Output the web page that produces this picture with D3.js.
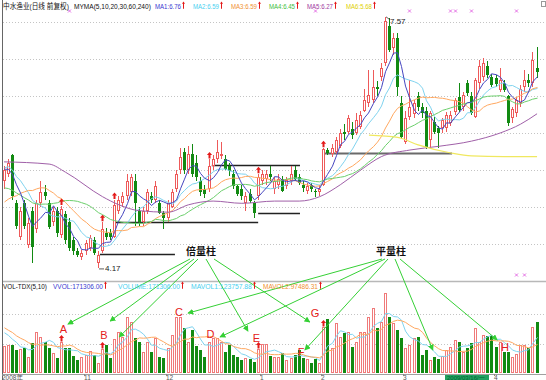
<!DOCTYPE html>
<html><head><meta charset="utf-8">
<script src="https://cdn.jsdelivr.net/npm/d3@7"></script>
<style>
html,body{margin:0;padding:0;background:#fff;}
svg{display:block;font-family:"Liberation Sans","Noto Sans CJK SC",Arial,sans-serif;}
</style></head><body>
<svg id="c" width="546" height="380"></svg>
<script>
// ---------------- DATA ----------------
const open = [5.35,5.45,5.70,5.05,4.60,5.05,4.48,4.95,4.70,5.05,
 5.20,5.05,4.80,4.95,4.62,4.90,4.80,4.55,4.40,4.33,
 4.40,4.45,4.55,4.25,4.40,4.65,4.65,4.60,4.95,5.05,
 5.15,5.20,5.35,4.95,4.80,4.95,5.15,5.10,5.05,4.92,
 4.85,5.00,5.25,5.50,5.74,5.50,5.72,5.60,5.35,5.25,
 5.25,5.55,5.65,5.70,5.65,5.55,5.45,5.28,5.25,5.05,
 5.18,5.05,5.15,5.35,5.38,5.45,5.25,5.30,5.38,5.28,
 5.35,5.50,5.40,5.30,5.22,5.30,5.22,5.20,5.30,5.77,
 5.72,5.75,5.82,6.02,6.02,6.05,6.00,6.08,6.30,6.40,
 6.45,6.62,6.76,6.95,7.45,7.15,7.28,6.40,5.88,6.22,
 6.25,6.50,6.35,6.30,5.90,6.15,6.07,6.07,6.07,6.14,
 6.28,6.48,6.35,6.68,6.50,6.22,6.68,6.76,6.90,6.76,
 6.75,6.58,6.68,6.50,6.20,6.27,6.40,6.62,6.72,6.68,
 6.88];
const high = [5.55,5.65,5.72,5.10,5.00,5.10,4.85,5.00,5.10,5.35,
 5.30,5.10,5.00,5.00,5.02,4.95,4.85,4.60,4.45,4.42,
 4.55,4.62,4.60,4.40,4.80,4.72,4.70,5.10,5.15,5.20,
 5.45,5.45,5.45,5.00,5.00,5.25,5.20,5.35,5.10,4.95,
 5.10,5.25,5.50,5.80,5.80,5.82,5.85,5.70,5.40,5.30,
 5.65,5.70,5.90,5.88,5.70,5.60,5.50,5.30,5.30,5.20,
 5.25,5.08,5.45,5.50,5.50,5.55,5.40,5.45,5.42,5.40,
 5.55,5.55,5.45,5.35,5.32,5.33,5.25,5.30,5.80,5.80,
 5.85,5.95,6.05,6.12,6.25,6.15,6.27,6.30,6.60,6.85,
 6.85,6.70,6.95,7.57,7.55,7.35,7.35,6.50,6.30,6.72,
 6.45,6.55,6.40,6.35,6.30,6.22,6.10,6.20,6.28,6.30,
 6.47,6.68,6.55,6.72,6.55,6.75,6.98,7.02,6.97,6.80,
 6.78,6.88,6.72,6.52,6.35,6.48,6.65,6.85,6.80,7.10,
 7.16];
const low = [5.25,5.40,5.10,4.70,4.55,4.70,4.45,4.24,4.65,5.00,
 5.10,4.70,4.75,4.60,4.58,4.50,4.40,4.35,4.32,4.28,
 4.35,4.40,4.35,4.17,4.38,4.55,4.55,4.58,4.90,5.00,
 5.10,5.15,4.75,4.75,4.75,4.90,5.05,5.05,4.90,4.70,
 4.80,4.98,5.20,5.45,5.45,5.45,5.40,5.35,5.15,5.12,
 5.20,5.50,5.60,5.65,5.50,5.42,5.25,5.15,5.10,4.95,
 5.05,4.85,5.10,5.30,5.30,5.35,5.18,5.25,5.20,5.25,
 5.30,5.35,5.30,5.20,5.18,5.20,5.14,5.15,5.28,5.70,
 5.68,5.72,5.80,5.90,5.98,5.92,5.97,6.05,6.28,6.35,
 6.40,6.50,6.70,6.90,7.10,7.05,6.50,5.92,5.85,6.18,
 6.20,6.30,6.20,5.78,5.80,5.98,5.80,6.00,6.02,6.10,
 6.25,6.28,6.30,6.50,6.25,6.20,6.60,6.70,6.75,6.62,
 6.62,6.55,6.55,6.10,6.14,6.22,6.35,6.55,6.62,6.62,
 6.75];
const close = [5.50,5.60,5.15,4.75,4.95,4.75,4.78,4.46,5.05,5.20,
 5.15,4.73,4.95,4.65,4.97,4.55,4.45,4.40,4.35,4.38,
 4.52,4.58,4.38,4.35,4.70,4.60,4.60,5.03,5.10,5.15,
 5.35,5.40,5.05,4.80,4.95,5.20,5.10,5.28,4.92,4.85,
 5.05,5.20,5.45,5.68,5.50,5.72,5.45,5.40,5.20,5.18,
 5.55,5.65,5.75,5.72,5.52,5.48,5.28,5.18,5.15,5.15,
 5.08,4.92,5.40,5.45,5.45,5.40,5.35,5.38,5.22,5.36,
 5.45,5.38,5.32,5.26,5.28,5.24,5.20,5.25,5.78,5.73,
 5.80,5.91,6.00,5.99,6.20,5.97,6.17,6.24,6.45,6.52,
 6.62,6.60,6.88,7.52,7.12,7.28,6.62,5.95,6.20,6.35,
 6.40,6.35,6.27,5.81,6.27,6.01,6.00,6.17,6.24,6.24,
 6.45,6.31,6.51,6.54,6.27,6.72,6.90,6.95,6.78,6.65,
 6.66,6.72,6.58,6.14,6.32,6.45,6.60,6.72,6.68,6.99,
 6.82];
const volume = [91500,95000,95000,78000,81000,85000,54000,102000,139000,122000,
 105000,85000,68000,51000,105000,85000,85000,58000,44000,54000,
 61000,75000,61000,34000,81000,95000,51000,115000,139000,122000,
 190000,173000,119000,105000,71000,105000,71000,119000,54000,51000,
 85000,129000,190000,190000,153000,105000,146000,92000,78000,54000,
 105000,119000,119000,105000,71000,95000,61000,54000,44000,51000,
 47000,37000,81000,98000,98000,58000,54000,54000,68000,44000,
 51000,61000,78000,51000,47000,34000,47000,34000,156000,183000,
 85000,170000,122000,136000,139000,88000,105000,139000,139000,190000,
 220000,153000,173000,271000,190000,170000,146000,119000,85000,95000,
 119000,122000,61000,78000,44000,54000,47000,58000,78000,88000,
 112000,105000,71000,85000,102000,153000,105000,129000,125000,125000,
 88000,105000,71000,71000,54000,64000,95000,95000,85000,156000,
 171306];
// closes / volumes before the visible window (seed for the moving averages)
const priorClose = [5.90,5.85,5.80,5.90,5.75,5.70,5.60,5.50,5.30,5.10,
 4.80,4.60,4.40,4.30,4.35,4.40,4.50,4.60,4.90,5.20,
 5.45,5.60,5.65,5.50,5.55,5.60,5.50,5.45,5.50];
const priorVolume = [180000,170000,190000,160000,150000,140000,160000,130000,160000];
// long averages: [bar, value]
const ma60Read = [[0,5.61],[11,5.58],[15,5.47],[24,5.14],[28,5.03],[33,4.95],[40,4.93],[45,5.03],[51,5.08],[58,5.05],[66,5.08],[72,5.08],[77,5.14],[82,5.30],[87,5.50],[92,5.68],[99,5.77],[106,5.82],[114,5.89],[121,6.00],[126,6.12],[130,6.26]];
const ma240Read = [[89,5.97],[96,5.94],[101,5.84],[109,5.73],[114,5.69],[122,5.68],[130,5.68]];
const monthLabels = ["2008年","11","12","1","2","3","4"];
const monthStart = [0,20,40,63,78,98,120];
const priceGrid = [7.5,7.0,6.5,6.0,5.5,5.0,4.5];
const volGrid = [100000,200000];
const maTitle = ["MA1:6.76","MA2:6.59","MA3:6.59","MA4:6.45","MA5:6.27","MA6:5.68"];
const volTitle = ["VVOL:171306.00","VOLUME:171306.00","MAVOL1:123757.88","MAVOL2:97486.31"];
const upBars = [14,24,27,50,62,78];       // red ↑ signals in price panel
const volUpBars = [14,24,62,78];          // red ↑ in volume panel
const topMarks = [16,76,99,109,110,114,125];
const bottomMarks = [125,127];
// annotation segments [fromBar, toBar, price]
const blackSegs = [[23.5,41.8,4.365],[26.7,62.1,4.80],[50.8,72.3,5.57],[62.1,72.3,4.92]];
const graySeg = [77.7,109.4,5.73];
// letters [label, bar, volume]
const letters = [["A",14.6,148000],["B",24.5,128000],["C",42.8,208000],["D",50.5,132000],["E",61.7,120000],["F",72.6,72000],["G",76.0,205000],["H",122.3,88000]];
// arrows [group, bar, volume, source x]
const arrows = [[0,15.7,166000,190],[0,26.0,176000,194],[0,28.2,122000,198],[0,59.6,142000,206],[0,74.7,173000,214],
 [1,45.0,203000,382],[1,52.8,122000,385],[1,73.5,78000,388],[1,104.7,78000,395],[1,120.4,112000,400]];

// ---------------- SCALES ----------------
const N = close.length;
const svg = d3.select("#c");
const x = d3.scaleBand().domain(d3.range(N)).range([1.5, 1.5 + N * 4.1]);
const cx = i => Math.round(x(i) + x.bandwidth() / 2);
const xl = d3.scaleLinear().domain([0, N - 1]).range([x(0) + x.bandwidth()/2, x(N-1) + x.bandwidth()/2]);
const yP = d3.scaleLinear().domain([4, 7.5]).range([281, 22]);
const yV = d3.scaleLinear().domain([0, 300000]).range([373, 284.5]);

const RED = "#ee5a5a", VRED = "#f07a7a", GRN = "#128a12";

// grid
svg.append("g").selectAll("line").data(priceGrid).join("line")
  .attr("x1", 3).attr("x2", 546).attr("y1", d => Math.round(yP(d)) + 0.5).attr("y2", d => Math.round(yP(d)) + 0.5)
  .attr("stroke", "#c4c4c4").attr("stroke-dasharray", "1,2");
svg.append("g").selectAll("line").data(volGrid).join("line")
  .attr("x1", 3).attr("x2", 546).attr("y1", d => Math.round(yV(d)) + 0.5).attr("y2", d => Math.round(yV(d)) + 0.5)
  .attr("stroke", "#c4c4c4").attr("stroke-dasharray", "1,2");
// panel frame
svg.append("line").attr("x1", 3).attr("x2", 546).attr("y1", 281.5).attr("y2", 281.5).attr("stroke", "#b8b8b8").attr("stroke-width", 1.5);
svg.append("line").attr("x1", 3).attr("x2", 546).attr("y1", 374.5).attr("y2", 374.5).attr("stroke", "#a0a0a0");
svg.append("line").attr("x1", 2.5).attr("x2", 2.5).attr("y1", 0).attr("y2", 380).attr("stroke", "#666");
svg.append("rect").attr("x", 541.5).attr("y", 1.5).attr("width", 4).attr("height", 5).attr("fill", "none").attr("stroke", "#999");

// annotation lines
svg.append("g").selectAll("line").data(blackSegs).join("line")
  .attr("x1", d => xl(d[0])).attr("x2", d => xl(d[1]))
  .attr("y1", d => Math.round(yP(d[2])) + 0.5).attr("y2", d => Math.round(yP(d[2])) + 0.5)
  .attr("stroke", "#222").attr("stroke-width", 1.3);
svg.append("line").attr("x1", xl(graySeg[0])).attr("x2", xl(graySeg[1]))
  .attr("y1", Math.round(yP(graySeg[2])) + 0.5).attr("y2", Math.round(yP(graySeg[2])) + 0.5)
  .attr("stroke", "#6a6a6a").attr("stroke-width", 2);

// candles
const gC = svg.append("g").attr("shape-rendering", "crispEdges");
d3.range(N).forEach(i => {
  const X = cx(i), isUp = close[i] >= open[i], col = isUp ? RED : GRN;
  gC.append("line").attr("x1", X + 0.5).attr("x2", X + 0.5).attr("y1", yP(high[i])).attr("y2", yP(low[i])).attr("stroke", col);
  const t = Math.round(yP(Math.max(open[i], close[i]))), b = Math.round(yP(Math.min(open[i], close[i])));
  if (isUp) {
    gC.append("rect").attr("x", X - 0.5).attr("y", t + 0.5).attr("width", 2).attr("height", Math.max(1, b - t - 1))
      .attr("fill", "#fff").attr("stroke", col);
  } else {
    gC.append("rect").attr("x", X - 1).attr("y", t).attr("width", 3).attr("height", Math.max(1, b - t)).attr("fill", col);
  }
});

// moving averages
const cAll = priorClose.concat(close), vAll = priorVolume.concat(volume);
function sma(series, seed, n) {
  return d3.range(N).map(i => { const j = i + seed; return d3.mean(series.slice(Math.max(0, j - n + 1), j + 1)); });
}
const lineP = d3.line().x((d, i) => cx(i) + 0.5).y(d => yP(d));
const maDefs = [[10, "#7fd3ef"], [20, "#ffa860"], [30, "#6ccf6c"], [5, "#4646c0"]];
maDefs.forEach(([n, col]) => {
  svg.append("path").attr("d", lineP(sma(cAll, priorClose.length, n))).attr("fill", "none").attr("stroke", col).attr("stroke-width", 1);
});
const lineK = d3.line().x(d => xl(d[0]) + 0.5).y(d => yP(d[1])).curve(d3.curveMonotoneX);
svg.append("path").attr("d", lineK(ma60Read)).attr("fill", "none").attr("stroke", "#a060a8").attr("stroke-width", 1);
svg.append("path").attr("d", lineK(ma240Read)).attr("fill", "none").attr("stroke", "#f0e860").attr("stroke-width", 1.2);

// volume bars
const gV = svg.append("g").attr("shape-rendering", "crispEdges");
d3.range(N).forEach(i => {
  const X = cx(i), isUp = close[i] >= open[i];
  const t = Math.round(yV(volume[i]));
  if (isUp) gV.append("rect").attr("x", X - 0.5).attr("y", t + 0.5).attr("width", 2).attr("height", 373 - t - 1).attr("fill", "#fff").attr("stroke", VRED);
  else gV.append("rect").attr("x", X - 1).attr("y", t).attr("width", 3).attr("height", 373 - t).attr("fill", GRN);
});
const lineV = d3.line().x((d, i) => cx(i) + 0.5).y(d => yV(d));
svg.append("path").attr("d", lineV(sma(vAll, priorVolume.length, 5))).attr("fill", "none").attr("stroke", "#7fd3ef");
svg.append("path").attr("d", lineV(sma(vAll, priorVolume.length, 10))).attr("fill", "none").attr("stroke", "#ffa860");

// up arrows
function upArrow(g, X, yTip) {
  g.append("path").attr("d", `M${X},${yTip} l2.6,3 h-1.6 v3.5 h-2 v-3.5 h-1.6 z`).attr("fill", "#e41a1a");
}
const gU = svg.append("g");
upBars.forEach(i => upArrow(gU, cx(i) + 0.5, yP(high[i]) - 7));
volUpBars.forEach(i => upArrow(gU, cx(i) + 0.5, yV(volume[i]) - 7));

// pink markers
const cross = (X, Y) => svg.append("path").attr("d", `M${X-1.5},${Y-1.5}l3,3M${X+1.5},${Y-1.5}l-3,3`).attr("stroke", "#e060e0").attr("stroke-width", 0.9);
topMarks.forEach(i => cross(cx(i) + 0.5, 11));
bottomMarks.forEach(i => cross(cx(i) + 0.5, 275));

// extreme labels
const iMax = d3.maxIndex(high), iMin = d3.minIndex(low);
svg.append("line").attr("x1", cx(iMax) + 1).attr("y1", yP(high[iMax])).attr("x2", cx(iMax) + 5).attr("y2", yP(high[iMax]) + 3).attr("stroke", "#333").attr("stroke-width", 0.8);
svg.append("text").attr("x", cx(iMax) + 5).attr("y", yP(high[iMax]) + 7).attr("font-size", 8).attr("fill", "#222").text(high[iMax].toFixed(2));
svg.append("line").attr("x1", cx(iMin) + 1).attr("y1", yP(low[iMin]) + 0.5).attr("x2", cx(iMin) + 6).attr("y2", yP(low[iMin]) + 0.5).attr("stroke", "#333").attr("stroke-width", 0.8);
svg.append("text").attr("x", cx(iMin) + 7).attr("y", yP(low[iMin]) + 3).attr("font-size", 8).attr("fill", "#222").text(low[iMin].toFixed(2));

// green arrows
const defs = svg.append("defs");
defs.append("marker").attr("id", "ah").attr("viewBox", "0 0 8 8").attr("refX", 7).attr("refY", 4)
  .attr("markerWidth", 6).attr("markerHeight", 6).attr("orient", "auto")
  .append("path").attr("d", "M0,0L8,4L0,8z").attr("fill", "#35d035");
svg.append("g").selectAll("line").data(arrows).join("line")
  .attr("x1", d => d[3]).attr("y1", 259).attr("x2", d => xl(d[1])).attr("y2", d => yV(d[2]))
  .attr("stroke", "#35d035").attr("stroke-width", 1).attr("marker-end", "url(#ah)");
svg.append("text").attr("x", 186).attr("y", 255).attr("font-size", 10).attr("font-weight", "bold").attr("fill", "#111").text("倍量柱");
svg.append("text").attr("x", 376).attr("y", 255).attr("font-size", 10).attr("font-weight", "bold").attr("fill", "#111").text("平量柱");

// letters
svg.append("g").selectAll("text").data(letters).join("text")
  .attr("x", d => xl(d[1])).attr("y", d => yV(d[2]) + 4).attr("text-anchor", "middle")
  .attr("font-size", 11).attr("fill", "#e42020").text(d => d[0]);

// titles (squeezed horizontally to the reference widths)
function label(txt, x0, w, y, col, arrow) {
  const t = svg.append("text").attr("x", 0).attr("y", 0).attr("font-size", 7.5).attr("fill", col).text(txt);
  const nat = t.node().getComputedTextLength() || w;
  t.attr("transform", `translate(${x0},${y}) scale(${w / nat},1)`);
  if (arrow) {
    const ax = x0 + w + 2.5;
    svg.append("path").attr("d", `M${ax},${y-7} l1.5,2.2 h-1 v5 h-1 v-5 h-1 z`).attr("fill", "#e41a1a");
  }
}
label("中水渔业(日线 前复权)", 3, 66, 8.5, "#111", false);
label("MYMA(5,10,20,30,60,240)", 74, 77, 8.5, "#111", false);
const maCols = ["#3838d0", "#48d0f0", "#f09030", "#40c040", "#a038a0", "#e0d000"];
const maX = [155, 193, 231, 269, 307, 346];
maTitle.forEach((t, k) => label(t, maX[k], 26, 8.5, maCols[k], true));
label("VOL-TDX(5,10)", 3, 44, 288.5, "#111", false);
const vCols = ["#3838d0", "#48d0f0", "#48d0f0", "#f09030"];
const vX = [53, 118, 191, 263], vW = [50, 62, 61, 55];
volTitle.forEach((t, k) => label(t, vX[k], vW[k], 288.5, vCols[k], true));

// bottom axis
svg.append("g").selectAll("text").data(monthLabels).join("text")
  .attr("x", (d, k) => cx(monthStart[k]) - 2).attr("y", 380).attr("font-size", 6.5).attr("fill", "#555").text(d => d);
svg.append("g").selectAll("line").data(monthStart).join("line")
  .attr("x1", d => cx(d) - 1.5).attr("x2", d => cx(d) - 1.5).attr("y1", 374).attr("y2", 376).attr("stroke", "#888");
svg.append("rect").attr("x", 445).attr("y", 375).attr("width", 44).attr("height", 5).attr("fill", "#20a060");
svg.append("text").attr("x", 447).attr("y", 380).attr("font-size", 6).attr("fill", "#063").text("2009/03/16/一");
</script>
</body></html>
